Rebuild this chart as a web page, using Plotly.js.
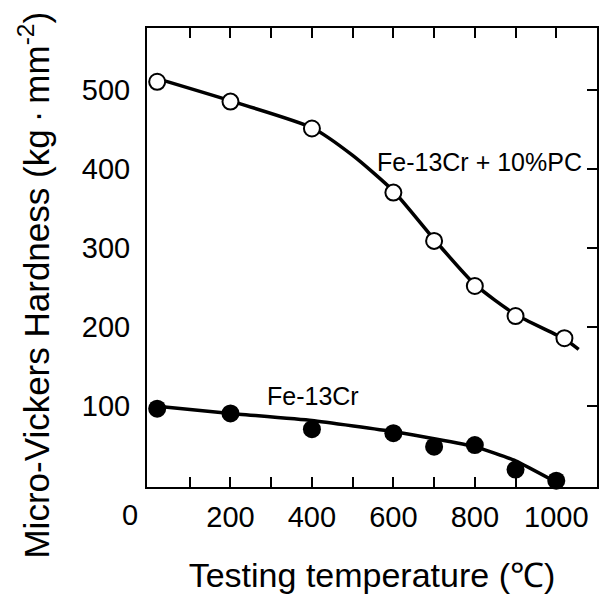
<!DOCTYPE html>
<html>
<head>
<meta charset="utf-8">
<script src="https://cdn.plot.ly/plotly-3.0.1.min.js"></script>
<style>html,body{margin:0;padding:0;background:#fff;}#chart{width:605px;height:600px;}</style>
</head>
<body>
<div id="chart"></div>
<script>
// Measured points
const tempPC = [20, 200, 400, 600, 700, 800, 900, 1020];
const hardPC = [510, 485, 451, 370, 309, 252, 214, 186];
const tempCr = [20, 200, 400, 600, 700, 800, 900, 1000];
const hardCr = [97, 91, 71, 66, 49, 51, 20, 6];
// Fitted curves
const fitPCx = [20, 200, 400, 500, 600, 700, 800, 900, 1020, 1055];
const fitPCy = [514, 486, 452, 417, 372, 311, 254, 216, 185, 172];
const fitCrx = [20, 200, 400, 600, 700, 800, 900, 1000];
const fitCry = [100, 91, 82, 68, 59, 49, 31, 4];
// Axis ticks
const xTickVals = [100, 200, 300, 400, 500, 600, 700, 800, 900, 1000];
const xTickText = ['', '200', '', '400', '', '600', '', '800', '', '1000'];
const yTickVals = [100, 200, 300, 400, 500];
const yTickText = ['100', '200', '300', '400', '500'];
const labelPC = 'Fe-13Cr + 10%PC';
const labelCr = 'Fe-13Cr';
const xTitle = 'Testing temperature (℃)';
const yTitle = 'Micro-Vickers Hardness (kg\u2009·\u2009mm<sup>-2</sup>)';

const FONT = 'Liberation Sans, Arial, Helvetica, sans-serif';

const traces = [
  {x: fitPCx, y: fitPCy, mode: 'lines', line: {color: '#000', width: 3.5, shape: 'spline', smoothing: 0.6}, hoverinfo: 'skip', showlegend: false, cliponaxis: false},
  {x: fitCrx, y: fitCry, mode: 'lines', line: {color: '#000', width: 3.5, shape: 'spline', smoothing: 0.4}, hoverinfo: 'skip', showlegend: false, cliponaxis: false},
  {x: tempPC, y: hardPC, mode: 'markers', marker: {symbol: 'circle', size: 16, color: '#fff', line: {color: '#000', width: 2}}, showlegend: false, cliponaxis: false},
  {x: tempCr, y: hardCr, yaxis: 'y2', mode: 'markers', marker: {symbol: 'circle', size: 18, color: '#000', line: {color: '#000', width: 0}}, showlegend: false, cliponaxis: false}
];

const layout = {
  width: 605, height: 600,
  margin: {l: 147, r: 8, t: 28, b: 113},
  paper_bgcolor: '#fff', plot_bgcolor: '#fff',
  showlegend: false,
  font: {family: FONT, color: '#000'},
  xaxis: {
    range: [-5, 1100], showgrid: false, zeroline: false,
    showline: true, linecolor: '#000', linewidth: 2, mirror: 'ticks',
    ticks: 'inside', ticklen: 10, tickwidth: 2, tickcolor: '#000',
    tickmode: 'array', tickvals: xTickVals, ticktext: xTickText,
    tickfont: {family: FONT, size: 29, color: '#000'},
    ticklabelstandoff: 3,
    title: {text: xTitle, font: {family: FONT, size: 34, color: '#000'}, standoff: 31}
  },
  yaxis: {
    range: [-2, 578], showgrid: false, zeroline: false,
    showline: true, linecolor: '#000', linewidth: 2, mirror: true,
    ticks: '', tickmode: 'array', tickvals: yTickVals, ticktext: yTickText,
    tickfont: {family: FONT, size: 29, color: '#000'},
    ticklabelstandoff: 9
  },
  yaxis2: {
    overlaying: 'y', side: 'right', range: [-2, 578],
    showgrid: false, zeroline: false, showline: false,
    ticks: 'inside', ticklen: 10, tickwidth: 2, tickcolor: '#000',
    tickmode: 'array', tickvals: yTickVals, showticklabels: false
  },
  annotations: [
    {x: 812, y: 409, xref: 'x', yref: 'y', text: labelPC, showarrow: false, font: {family: FONT, size: 25, color: '#000'}},
    {x: 402, y: 113, xref: 'x', yref: 'y', text: labelCr, showarrow: false, font: {family: FONT, size: 25, color: '#000'}},
    {x: -0.038, y: -0.061, xref: 'paper', yref: 'paper', xanchor: 'center', yanchor: 'middle', text: '0', showarrow: false, font: {family: FONT, size: 29, color: '#000'}},
    {x: -0.250, y: 0.44, xref: 'paper', yref: 'paper', xanchor: 'center', yanchor: 'middle', textangle: -90, text: yTitle, showarrow: false, font: {family: FONT, size: 35, color: '#000'}}
  ]
};

Plotly.newPlot('chart', traces, layout, {displayModeBar: false, staticPlot: true});
</script>
</body>
</html>
